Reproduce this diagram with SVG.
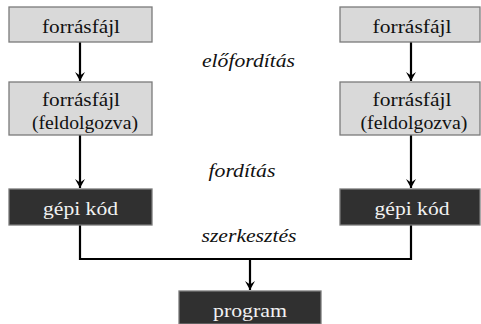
<svg xmlns="http://www.w3.org/2000/svg" width="481" height="324" viewBox="0 0 481 324">
<defs>
<style>
.light rect{fill:#d9d9d9;stroke:#7a7a7a;stroke-width:1.3}
.dark rect{fill:#303030;stroke:#7a7a7a;stroke-width:1.3}
text{font-family:"Times New Roman","Liberation Serif",serif;font-size:19.5px;text-anchor:middle}
.light text{fill:#111}
.dark text{fill:#f2f2f2}
.lbl{font-style:italic;fill:#111}
.conn path{fill:none;stroke:#000;stroke-width:2.2}
.conn .arr{marker-end:url(#ah)}
</style>
<marker id="ah" markerUnits="userSpaceOnUse" markerWidth="12" markerHeight="12" viewBox="0 0 12 12" refX="11" refY="6" orient="auto">
<path d="M2,1 L11,6 L2,11 L5.5,6 z" fill="#000"/>
</marker>
</defs>
<rect width="481" height="324" fill="#fff"/>
<g class="conn">
<path class="arr" d="M80,42 V81"/>
<path class="arr" d="M80,135 V188"/>
<path class="arr" d="M411,42 V81"/>
<path class="arr" d="M411,135 V188"/>
<path d="M80,225 V259 H411 V225"/>
<path class="arr" d="M250,259 V290"/>
</g>
<g id="src1" class="light"><rect x="9" y="7" width="143" height="35"/><text x="81" y="33.3" textLength="78" lengthAdjust="spacingAndGlyphs">forrásfájl</text></g>
<g id="pre1" class="light"><rect x="9" y="82" width="143" height="53"/><text x="81" y="106" textLength="78" lengthAdjust="spacingAndGlyphs">forrásfájl</text><text x="85" y="128.5" textLength="106" lengthAdjust="spacingAndGlyphs">(feldolgozva)</text></g>
<g id="obj1" class="dark"><rect x="9" y="189" width="143" height="36"/><text x="80.5" y="215" textLength="75" lengthAdjust="spacingAndGlyphs">gépi kód</text></g>
<g id="src2" class="light"><rect x="340" y="7" width="140" height="35"/><text x="412" y="33.3" textLength="79" lengthAdjust="spacingAndGlyphs">forrásfájl</text></g>
<g id="pre2" class="light"><rect x="340" y="82" width="140" height="53"/><text x="412" y="106" textLength="79" lengthAdjust="spacingAndGlyphs">forrásfájl</text><text x="414" y="128.5" textLength="107" lengthAdjust="spacingAndGlyphs">(feldolgozva)</text></g>
<g id="obj2" class="dark"><rect x="340" y="189" width="140" height="36"/><text x="412" y="215" textLength="75" lengthAdjust="spacingAndGlyphs">gépi kód</text></g>
<g id="prog" class="dark"><rect x="179" y="291" width="142" height="33"/><text x="250" y="317" textLength="74" lengthAdjust="spacingAndGlyphs">program</text></g>
<g id="labels">
<text class="lbl" x="248.5" y="66.7" textLength="93" lengthAdjust="spacingAndGlyphs">előfordítás</text>
<text class="lbl" x="242" y="176.7" textLength="67" lengthAdjust="spacingAndGlyphs">fordítás</text>
<text class="lbl" x="249" y="241.7" textLength="95" lengthAdjust="spacingAndGlyphs">szerkesztés</text>
</g>
</svg>
